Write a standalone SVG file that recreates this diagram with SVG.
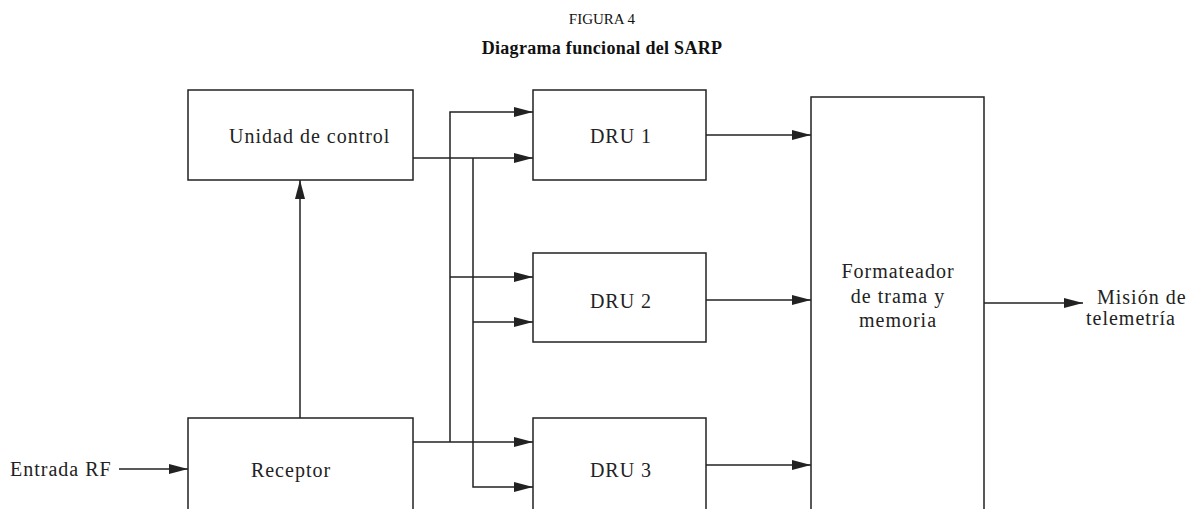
<svg xmlns="http://www.w3.org/2000/svg" width="1204" height="509" viewBox="0 0 1204 509">
<style>
.box{fill:#fff;stroke:#222;stroke-width:1.5}
.ln{fill:none;stroke:#222;stroke-width:1.5}
.t{font-family:"Liberation Serif",serif;font-size:20px;fill:#222;letter-spacing:1px}
.c{text-anchor:middle}
.title{font-family:"Liberation Serif",serif;font-size:15px;fill:#111}
.sub{font-size:18px;font-weight:bold;letter-spacing:0.3px}
</style>
<defs>
<marker id="ah" markerWidth="19" markerHeight="10" refX="19" refY="5" orient="auto" markerUnits="userSpaceOnUse">
<path d="M0,0 L19,5 L0,10 z" fill="#222"/>
</marker>
</defs>
<text class="title c" x="602" y="24">FIGURA 4</text>
<text class="title sub c" x="602" y="54">Diagrama funcional del SARP</text>
<g id="unidad"><rect class="box" x="188" y="90" width="225" height="90"/><text class="t" x="229" y="143">Unidad de control</text></g>
<g id="receptor"><rect class="box" x="188" y="418" width="225" height="92"/><text class="t c" x="291" y="477">Receptor</text></g>
<g id="dru1"><rect class="box" x="533" y="90" width="173" height="90"/><text class="t c" x="621" y="143">DRU 1</text></g>
<g id="dru2"><rect class="box" x="533" y="253" width="173" height="89"/><text class="t c" x="621" y="308">DRU 2</text></g>
<g id="dru3"><rect class="box" x="533" y="418" width="173" height="92"/><text class="t c" x="621" y="477">DRU 3</text></g>
<g id="formateador"><rect class="box" x="811" y="97" width="173" height="413"/>
<text class="t c" x="898" y="278">Formateador</text><text class="t c" x="898" y="303">de trama y</text><text class="t c" x="898" y="327">memoria</text></g>
<g id="labels">
<text class="t" x="10" y="476">Entrada RF</text>
<text class="t" x="1097" y="304">Misión de</text>
<text class="t" x="1086" y="325">telemetría</text>
</g>
<g id="connectors">
<path class="ln" d="M119,469 H188" marker-end="url(#ah)"/>
<path class="ln" d="M300,418 V180" marker-end="url(#ah)"/>
<path class="ln" d="M413,158 H533" marker-end="url(#ah)"/>
<path class="ln" d="M450,442 V112 H533" marker-end="url(#ah)"/>
<path class="ln" d="M473,158 V487 H533" marker-end="url(#ah)"/>
<path class="ln" d="M450,277 H533" marker-end="url(#ah)"/>
<path class="ln" d="M473,322 H533" marker-end="url(#ah)"/>
<path class="ln" d="M413,442 H533" marker-end="url(#ah)"/>
<path class="ln" d="M706,135 H811" marker-end="url(#ah)"/>
<path class="ln" d="M706,300 H811" marker-end="url(#ah)"/>
<path class="ln" d="M706,465 H811" marker-end="url(#ah)"/>
<path class="ln" d="M984,303 H1083" marker-end="url(#ah)"/>
</g>
</svg>
